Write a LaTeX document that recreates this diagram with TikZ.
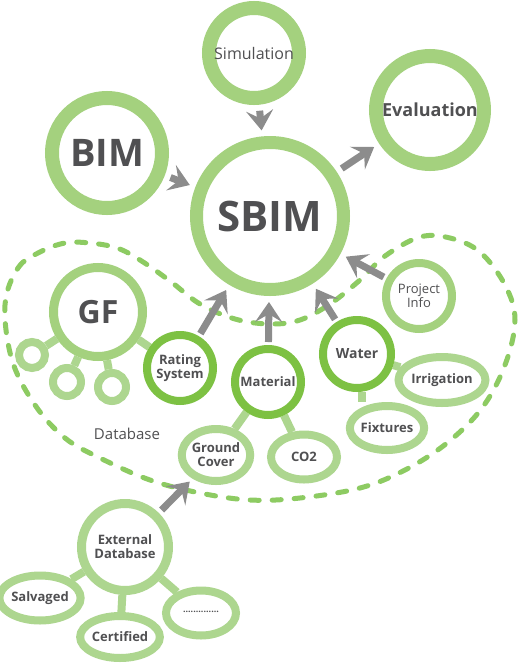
\documentclass[tikz,border=0pt]{standalone}
\usepackage{fontspec}
\setmainfont{Open Sans}
\setsansfont{Open Sans}
\usetikzlibrary{arrows.meta,shapes.geometric}
\definecolor{lg}{HTML}{A4D17E}
\definecolor{lg2}{HTML}{ADD68F}
\definecolor{dg}{HTML}{7DC143}
\definecolor{dashc}{HTML}{8DCB62}
\definecolor{txt}{HTML}{505052}
\definecolor{arr}{HTML}{8C8C8C}
\pgfdeclarelayer{bg}
\pgfsetlayers{bg,main}
\begin{document}
\begin{tikzpicture}[x=1pt,y=-1pt,
  ringnode/.style={circle,draw=lg,fill=white,inner sep=0pt,text=txt,align=center,font=\bfseries\fontsize{13}{14}\selectfont},
  darkring/.style={ringnode,draw=dg,line width=8pt,minimum size=#1},
  ovalnode/.style={ellipse,draw=lg2,fill=white,inner sep=0pt,text=txt,align=center,line width=8pt,font=\bfseries\fontsize{13}{14}\selectfont},
  bar/.style={draw=lg2,line width=8pt},
  arrowc/.style={draw=arr,line width=7pt,-{Stealth[length=20pt,width=27pt,inset=8pt]}},
  blob/.style={draw=dashc,line width=5pt,dash pattern=on 9pt off 13pt,line cap=round}
]
\useasboundingbox (0,0) rectangle (520,665);

% main circles
\node[ringnode,line width=13pt,minimum size=147pt,font=\bfseries\fontsize{42}{44}\selectfont] (sbim) at (270,216) {SBIM};
\node[ringnode,line width=14pt,minimum size=90pt,font=\fontsize{16}{18}\selectfont] (sim) at (254,53) {Simulation};
\node[ringnode,line width=14pt,minimum size=108pt,font=\bfseries\fontsize{18}{20}\selectfont] (eval) at (430,110) {Evaluation};
\node[ringnode,line width=14pt,minimum size=110pt,font=\bfseries\fontsize{38}{40}\selectfont] (bim) at (107,153) {BIM};

% database group
\node[ringnode,line width=9pt,minimum size=89pt,font=\bfseries\fontsize{32}{34}\selectfont] (gf) at (98,312) {GF};
\node[ringnode,draw=lg2,line width=8pt,minimum size=26pt] (c1) at (32,355) {};
\node[ringnode,draw=lg2,line width=8pt,minimum size=28pt] (c2) at (67,382) {};
\node[ringnode,draw=lg2,line width=8pt,minimum size=28pt] (c3) at (112,387) {};
\node[darkring=66pt] (rating) at (180,368) {Rating\\System};
\node[darkring=66pt] (material) at (268,382) {Material};
\node[darkring=68pt,font=\bfseries\fontsize{14}{15}\selectfont] (water) at (357,354) {Water};
\node[ringnode,line width=8pt,minimum size=66pt,font=\fontsize{13}{14}\selectfont] (proj) at (419,296) {Project\\Info};
\node[ovalnode,minimum width=68pt,minimum height=46pt] (irr) at (442,380) {Irrigation};
\node[ovalnode,minimum width=68pt,minimum height=44pt] (fix) at (387,428) {Fixtures};
\node[ovalnode,minimum width=66pt,minimum height=45pt] (co2) at (304,457) {CO2};
\node[ovalnode,minimum width=68pt,minimum height=52pt] (ground) at (216,455) {Ground\\Cover};
\node[text=txt,font=\fontsize{15}{16}\selectfont] (dblabel) at (127,434) {Database};

% external database
\node[ringnode,draw=lg2,line width=9pt,minimum size=87pt] (ext) at (125,547) {External\\Database};
\node[ovalnode,minimum width=68pt,minimum height=45pt] (salv) at (40,598) {Salvaged};
\node[ovalnode,minimum width=71pt,minimum height=42pt] (cert) at (120,637) {Certified};
\node[ovalnode,minimum width=70pt,minimum height=45pt] (dots) at (201,613) {\raisebox{0.3ex}{\fontsize{9}{9}\selectfont ..............}};

\begin{pgfonlayer}{bg}
\fill[white] (0,0) rectangle (520,665);
\draw[blob] plot[smooth cycle,tension=0.6] coordinates {
 (5,305) (18,268) (40,252) (65,243) (90,243) (117,248) (140,260) (170,281)
 (200,304) (235,319) (270,324) (300,320) (330,304) (360,280) (385,256)
 (420,237) (450,238) (480,252) (505,285) (515,320) (505,365) (482,408)
 (447,443) (405,470) (360,488) (300,498) (250,500) (200,493) (150,480)
 (100,458) (65,438) (35,405) (12,360)};
\draw[bar] (gf) -- (c1);
\draw[bar] (gf) -- (c2);
\draw[bar] (gf) -- (c3);
\draw[bar] (gf) -- (rating);
\draw[bar] (material) -- (ground);
\draw[bar] (material) -- (co2);
\draw[bar] (water) -- (irr);
\draw[bar] (water.south) ++(5,0) coordinate (ws) -- (fix.north -| ws);
\draw[bar] (ext) -- (salv);
\draw[bar] (ext) -- (cert);
\draw[bar] (ext) -- (dots);
\end{pgfonlayer}

% arrows
\draw[arrowc,shorten <=6pt,shorten >=6pt] (sim) -- (sbim);
\draw[arrowc,shorten <=6pt,shorten >=6pt] (bim) -- (sbim);
\draw[arrowc,shorten <=6pt,shorten >=6pt] (sbim) -- (eval);
\draw[arrowc,shorten <=3pt,shorten >=6pt] (rating) -- (sbim);
\draw[arrowc,shorten <=3pt,shorten >=6pt] (material) -- (sbim);
\draw[arrowc,shorten <=3pt,shorten >=6pt] (water) -- (sbim);
\draw[arrowc,shorten <=3pt,shorten >=6pt] (proj) -- (sbim);
\draw[arrowc,shorten <=4pt,shorten >=4pt] (ext) -- (ground);
\end{tikzpicture}
\end{document}
